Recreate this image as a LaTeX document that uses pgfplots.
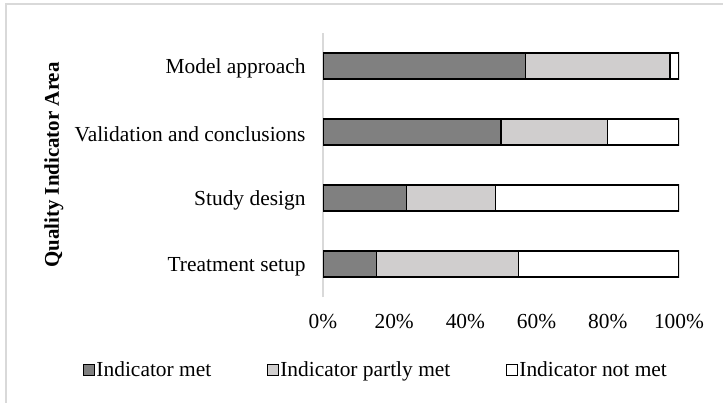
\documentclass[border=0pt]{standalone}
\usepackage{fontspec}
\setmainfont{Liberation Serif}
\usepackage{pgfplots}
\pgfplotsset{compat=1.18}

\definecolor{metgray}{RGB}{128,128,128}
\definecolor{partgray}{RGB}{208,206,206}
\definecolor{framegray}{RGB}{217,217,217}

\begin{document}
\begin{tikzpicture}
\path[use as bounding box] (0bp,0bp) rectangle (723bp,403bp);
% outer chart frame
\draw[framegray, line width=1.2bp] (6bp,-20bp) -- (6bp,399bp) -- (760bp,399bp);
\begin{axis}[
  at={(323bp,106bp)}, anchor=south west,
  scale only axis, width=356bp, height=264bp,
  xbar stacked, bar width=26bp,
  xmin=0, xmax=100, ymin=-0.5, ymax=3.5,
  ytick={0,1,2,3},
  yticklabels={Treatment setup, Study design, Validation and conclusions, Model approach},
  xtick={0,20,40,60,80,100},
  xticklabel={\pgfmathprintnumber{\tick}\%},
  /pgf/number format/assume math mode=true,
  major tick length=0pt,
  axis lines*=left,
  x axis line style={draw=none},
  y axis line style={draw=framegray, line width=1.5bp, -},
  tick label style={font=\fontsize{21.5}{24}\selectfont},
  yticklabel style={xshift=-14bp, yshift=-2.5bp},
  xticklabel style={yshift=-14bp},
  ylabel={\textbf{Quality Indicator Area}},
  ylabel style={font=\fontsize{21}{24}\selectfont, at={(axis description cs:-0.756,0.5)}, anchor=center, rotate=0},
  legend columns=3,
  legend style={draw=none, fill=none, at={(axis description cs:0.148,-0.275)}, anchor=center,
    /tikz/every even column/.append style={column sep=54bp},
    nodes={inner sep=1.5bp, font=\fontsize{21.5}{24}\selectfont}},
  legend image code/.code={\draw[#1, line width=1bp, draw=black] (0bp,-5.5bp) rectangle (11bp,5.5bp);},
]
\addplot[fill=metgray, draw=black, line width=1.3bp] coordinates {(15,0) (23.4,1) (50,2) (56.9,3)};
\addplot[fill=partgray, draw=black, line width=1.3bp] coordinates {(40,0) (25,1) (30,2) (40.6,3)};
\addplot[fill=white, draw=black, line width=1.3bp] coordinates {(45,0) (51.6,1) (20,2) (2.5,3)};
\legend{Indicator met, Indicator partly met, Indicator not met}
\end{axis}
\end{tikzpicture}
\end{document}
